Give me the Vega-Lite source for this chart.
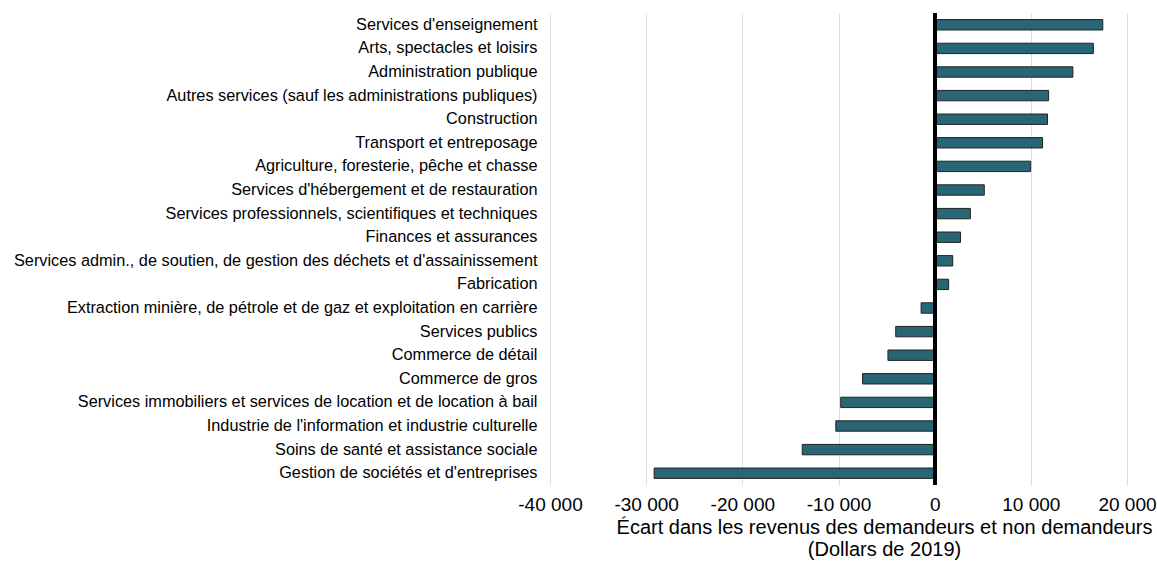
{
  "$schema": "https://vega.github.io/schema/vega-lite/v6.json",
  "autosize": {"type": "none"},
  "padding": {"left": 550, "top": 13, "right": 30, "bottom": 80},
  "width": 577,
  "height": 472,
  "background": "white",
  "config": {"view": {"stroke": null}, "font": "Liberation Sans"},
  "data": {"values": [
    {"secteur": "Services d'enseignement", "ecart": 17480},
    {"secteur": "Arts, spectacles et loisirs", "ecart": 16500},
    {"secteur": "Administration publique", "ecart": 14370},
    {"secteur": "Autres services (sauf les administrations publiques)", "ecart": 11850},
    {"secteur": "Construction", "ecart": 11730},
    {"secteur": "Transport et entreposage", "ecart": 11220},
    {"secteur": "Agriculture, foresterie, pêche et chasse", "ecart": 9980},
    {"secteur": "Services d'hébergement et de restauration", "ecart": 5160},
    {"secteur": "Services professionnels, scientifiques et techniques", "ecart": 3710},
    {"secteur": "Finances et assurances", "ecart": 2690},
    {"secteur": "Services admin., de soutien, de gestion des déchets et d'assainissement", "ecart": 1880},
    {"secteur": "Fabrication", "ecart": 1450},
    {"secteur": "Extraction minière, de pétrole et de gaz et exploitation en carrière", "ecart": -1410},
    {"secteur": "Services publics", "ecart": -4050},
    {"secteur": "Commerce de détail", "ecart": -4860},
    {"secteur": "Commerce de gros", "ecart": -7500},
    {"secteur": "Services immobiliers et services de location et de location à bail", "ecart": -9770},
    {"secteur": "Industrie de l'information et industrie culturelle", "ecart": -10280},
    {"secteur": "Soins de santé et assistance sociale", "ecart": -13770},
    {"secteur": "Gestion de sociétés et d'entreprises", "ecart": -29170}
  ]},
  "layer": [
    {
      "mark": {"type": "bar", "color": "#286575", "stroke": "#222222", "strokeWidth": 1},
      "encoding": {
        "y": {
          "field": "secteur", "type": "nominal", "sort": null,
          "scale": {"paddingInner": 0.56, "paddingOuter": 0.28},
          "axis": {"title": null, "domain": false, "ticks": false, "labelFontSize": 16.3, "labelColor": "#000000", "labelPadding": 13, "labelLimit": 0}
        },
        "x": {
          "field": "ecart", "type": "quantitative",
          "scale": {"domain": [-40000, 20000], "nice": false},
          "axis": {
            "values": [-40000, -30000, -20000, -10000, 0, 10000, 20000],
            "labelExpr": "(datum.value < 0 ? '-' : '') + replace(format(abs(datum.value), ','), ',', ' ')",
            "labelFlush": false, "labelOverlap": false,
            "domain": false, "ticks": false, "grid": true, "gridColor": "#dddddd",
            "labelFontSize": 19, "labelColor": "#000000", "labelPadding": 10,
            "title": ["Écart dans les revenus des demandeurs et non demandeurs", "(Dollars de 2019)"],
            "titleFontSize": 20, "titleFontWeight": "normal", "titleColor": "#000000",
            "titleX": 334, "titleAlign": "center", "titlePadding": 3, "titleLineHeight": 22
          }
        }
      }
    },
    {
      "mark": {"type": "rule", "color": "#000000", "strokeWidth": 3},
      "encoding": {"x": {"datum": 0}}
    }
  ]
}
